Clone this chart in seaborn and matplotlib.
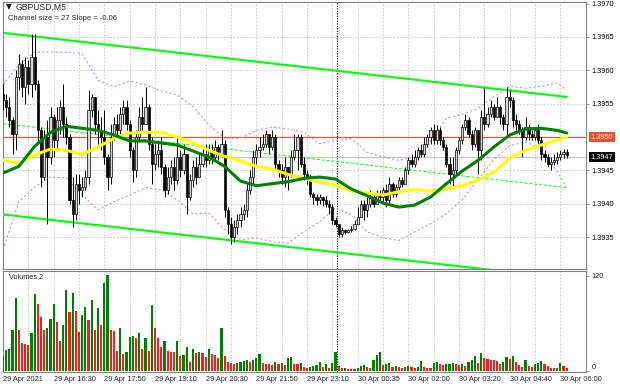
import numpy as np
import pandas as pd
import matplotlib
matplotlib.use("Agg")
import matplotlib.pyplot as plt
import matplotlib.transforms as mtransforms
import seaborn as sns

# ---------------- data ----------------
first_open = 1.39565
closes = [
    1.39555, 1.39545, 1.39525, 1.39505, 1.39590, 1.39610, 1.39575, 1.39605, 1.39580, 1.39620,
    1.39580, 1.39510, 1.39440, 1.39500, 1.39470, 1.39530, 1.39495, 1.39525, 1.39545, 1.39520,
    1.39500, 1.39405, 1.39385, 1.39430, 1.39420, 1.39425, 1.39440, 1.39540, 1.39560, 1.39520,
    1.39510, 1.39500, 1.39470, 1.39440, 1.39500, 1.39520, 1.39510, 1.39535, 1.39545, 1.39520,
    1.39480, 1.39450, 1.39500, 1.39530, 1.39520, 1.39545, 1.39490, 1.39460, 1.39475, 1.39480,
    1.39455, 1.39420, 1.39440, 1.39455, 1.39435, 1.39470, 1.39450, 1.39475, 1.39410, 1.39435,
    1.39455, 1.39440, 1.39460, 1.39475, 1.39465, 1.39480, 1.39470, 1.39485, 1.39475, 1.39490,
    1.39390, 1.39370, 1.39350, 1.39365, 1.39375, 1.39385, 1.39390, 1.39420, 1.39440, 1.39470,
    1.39480, 1.39485, 1.39490, 1.39505, 1.39485, 1.39500, 1.39460, 1.39450, 1.39440, 1.39455,
    1.39445, 1.39470, 1.39480, 1.39500, 1.39460, 1.39445, 1.39440, 1.39415, 1.39410, 1.39405,
    1.39410, 1.39405, 1.39400, 1.39395, 1.39375, 1.39370, 1.39355, 1.39360, 1.39358, 1.39360,
    1.39362, 1.39370, 1.39380, 1.39400, 1.39390, 1.39400, 1.39410, 1.39400, 1.39415, 1.39410,
    1.39420, 1.39405, 1.39430, 1.39415, 1.39425, 1.39435, 1.39430, 1.39450, 1.39465, 1.39460,
    1.39470, 1.39480, 1.39475, 1.39490, 1.39500, 1.39510, 1.39495, 1.39510, 1.39495, 1.39485,
    1.39460, 1.39445, 1.39450, 1.39480, 1.39495, 1.39515, 1.39525, 1.39505, 1.39490, 1.39510,
    1.39480, 1.39530, 1.39520, 1.39535, 1.39545, 1.39530, 1.39545, 1.39530, 1.39520, 1.39560,
    1.39555, 1.39525, 1.39520, 1.39510, 1.39500, 1.39515, 1.39505, 1.39500, 1.39510, 1.39495,
    1.39475, 1.39470, 1.39460, 1.39462, 1.39465, 1.39470, 1.39475, 1.39478, 1.39473,
]
highs = [
    1.39580, 1.39565, 1.39560, 1.39530, 1.39600, 1.39625, 1.39615, 1.39620, 1.39615, 1.39655,
    1.39655, 1.39585, 1.39515, 1.39510, 1.39525, 1.39545, 1.39535, 1.39545, 1.39555, 1.39580,
    1.39530, 1.39505, 1.39440, 1.39445, 1.39445, 1.39440, 1.39450, 1.39570, 1.39565, 1.39560,
    1.39540, 1.39530, 1.39540, 1.39475, 1.39520, 1.39530, 1.39535, 1.39545, 1.39555, 1.39555,
    1.39525, 1.39485, 1.39510, 1.39545, 1.39560, 1.39575, 1.39550, 1.39500, 1.39490, 1.39495,
    1.39500, 1.39460, 1.39455, 1.39465, 1.39470, 1.39500, 1.39480, 1.39490, 1.39475, 1.39445,
    1.39465, 1.39470, 1.39475, 1.39485, 1.39490, 1.39490, 1.39490, 1.39495, 1.39490, 1.39510,
    1.39495, 1.39395, 1.39380, 1.39375, 1.39385, 1.39395, 1.39400, 1.39430, 1.39450, 1.39480,
    1.39490, 1.39500, 1.39505, 1.39510, 1.39505, 1.39510, 1.39505, 1.39465, 1.39460, 1.39470,
    1.39455, 1.39480, 1.39505, 1.39505, 1.39505, 1.39470, 1.39450, 1.39445, 1.39418, 1.39415,
    1.39415, 1.39412, 1.39412, 1.39405, 1.39400, 1.39380, 1.39370, 1.39365, 1.39362, 1.39362,
    1.39366, 1.39375, 1.39395, 1.39405, 1.39405, 1.39410, 1.39420, 1.39415, 1.39420, 1.39420,
    1.39425, 1.39430, 1.39440, 1.39432, 1.39430, 1.39440, 1.39440, 1.39455, 1.39470, 1.39475,
    1.39480, 1.39485, 1.39490, 1.39500, 1.39505, 1.39515, 1.39520, 1.39518, 1.39515, 1.39500,
    1.39490, 1.39470, 1.39470, 1.39485, 1.39500, 1.39520, 1.39535, 1.39530, 1.39510, 1.39515,
    1.39505, 1.39540, 1.39573, 1.39545, 1.39555, 1.39550, 1.39560, 1.39548, 1.39535, 1.39575,
    1.39570, 1.39560, 1.39535, 1.39525, 1.39515, 1.39530, 1.39520, 1.39510, 1.39515, 1.39520,
    1.39500, 1.39480, 1.39475, 1.39470, 1.39475, 1.39478, 1.39480, 1.39482, 1.39482,
]
lows = [
    1.39540, 1.39530, 1.39515, 1.39475, 1.39480, 1.39570, 1.39560, 1.39550, 1.39565, 1.39560,
    1.39570, 1.39490, 1.39425, 1.39435, 1.39370, 1.39460, 1.39470, 1.39480, 1.39505, 1.39500,
    1.39490, 1.39400, 1.39365, 1.39375, 1.39400, 1.39410, 1.39420, 1.39430, 1.39530, 1.39505,
    1.39490, 1.39480, 1.39460, 1.39420, 1.39430, 1.39495, 1.39500, 1.39505, 1.39520, 1.39510,
    1.39470, 1.39432, 1.39440, 1.39495, 1.39510, 1.39520, 1.39480, 1.39430, 1.39450, 1.39455,
    1.39445, 1.39410, 1.39415, 1.39430, 1.39420, 1.39430, 1.39440, 1.39445, 1.39385, 1.39405,
    1.39425, 1.39430, 1.39440, 1.39455, 1.39455, 1.39460, 1.39460, 1.39465, 1.39465, 1.39470,
    1.39380, 1.39355, 1.39340, 1.39343, 1.39355, 1.39365, 1.39375, 1.39380, 1.39415, 1.39430,
    1.39460, 1.39470, 1.39480, 1.39485, 1.39475, 1.39480, 1.39450, 1.39440, 1.39430, 1.39425,
    1.39420, 1.39440, 1.39465, 1.39450, 1.39455, 1.39435, 1.39430, 1.39410, 1.39400, 1.39398,
    1.39400, 1.39396, 1.39395, 1.39385, 1.39370, 1.39365, 1.39350, 1.39350, 1.39354, 1.39356,
    1.39358, 1.39360, 1.39375, 1.39380, 1.39375, 1.39380, 1.39395, 1.39395, 1.39400, 1.39405,
    1.39400, 1.39395, 1.39400, 1.39410, 1.39410, 1.39420, 1.39425, 1.39430, 1.39445, 1.39455,
    1.39455, 1.39465, 1.39470, 1.39470, 1.39485, 1.39490, 1.39490, 1.39490, 1.39488, 1.39480,
    1.39455, 1.39430, 1.39424, 1.39445, 1.39475, 1.39490, 1.39510, 1.39500, 1.39480, 1.39485,
    1.39445, 1.39465, 1.39510, 1.39515, 1.39530, 1.39525, 1.39530, 1.39520, 1.39510, 1.39500,
    1.39545, 1.39515, 1.39510, 1.39505, 1.39470, 1.39495, 1.39495, 1.39495, 1.39495, 1.39490,
    1.39465, 1.39462, 1.39455, 1.39450, 1.39458, 1.39460, 1.39465, 1.39468, 1.39468,
]
volumes = [
    18, 26, 27, 52, 92, 51, 35, 34, 33, 48, 97, 84, 68, 51, 54, 66, 84, 61, 38, 58,
    102, 74, 98, 76, 49, 71, 81, 64, 89, 51, 79, 58, 111, 121, 51, 50, 25, 54, 21, 24,
    43, 44, 42, 48, 27, 41, 25, 83, 54, 41, 30, 37, 25, 24, 24, 37, 18, 20, 30, 11,
    28, 22, 24, 22, 17, 27, 21, 20, 16, 54, 18, 11, 10, 8, 10, 11, 12, 13, 11, 14,
    16, 21, 10, 9, 8, 7, 11, 9, 10, 7, 16, 17, 9, 8, 10, 5, 4, 5, 6, 7,
    11, 5, 9, 4, 10, 24, 6, 3, 4, 2, 2, 2, 3, 6, 7, 5, 4, 13, 20, 24,
    7, 9, 10, 5, 6, 5, 4, 5, 6, 5, 3, 5, 12, 5, 4, 3, 10, 11, 9, 7,
    8, 9, 10, 8, 7, 8, 6, 11, 14, 18, 10, 23, 16, 15, 14, 13, 12, 9, 11, 17,
    15, 18, 11, 7, 5, 14, 6, 5, 8, 10, 12, 9, 6, 4, 3, 4, 10, 6, 3,
]

# moving averages and bands, read every 5 bars
ind_bars = [0, 5, 10, 15, 20, 25, 30, 35, 40, 45, 50, 55, 60, 65, 70, 75, 80, 85, 90,
            95, 100, 105, 110, 115, 120, 125, 130, 135, 140, 145, 150, 155, 160, 165,
            170, 175, 178]
ma_fast = [1.39446, 1.39456, 1.39486, 1.39507, 1.39516, 1.39513, 1.39510, 1.39503, 1.39494,
           1.39494, 1.39491, 1.39488, 1.39479, 1.39470, 1.39456, 1.39434, 1.39427, 1.39430,
           1.39433, 1.39438, 1.39440, 1.39437, 1.39422, 1.39412, 1.39401, 1.39395, 1.39398,
           1.39410, 1.39430, 1.39449, 1.39465, 1.39485, 1.39503, 1.39512, 1.39513, 1.39510,
           1.39506]
ma_slow = [1.39465, 1.39461, 1.39473, 1.39482, 1.39480, 1.39474, 1.39485, 1.39498, 1.39506,
           1.39507, 1.39507, 1.39500, 1.39491, 1.39480, 1.39471, 1.39464, 1.39456, 1.39452,
           1.39444, 1.39438, 1.39432, 1.39428, 1.39419, 1.39416, 1.39413, 1.39418, 1.39421,
           1.39419, 1.39422, 1.39427, 1.39436, 1.39447, 1.39468, 1.39480, 1.39488, 1.39495,
           1.39500]
band_upper = [1.39578, 1.39608, 1.39627, 1.39627, 1.39627, 1.39625, 1.39585, 1.39575, 1.39584,
              1.39578, 1.39569, 1.39563, 1.39546, 1.39518, 1.39498, 1.39498, 1.39510, 1.39515,
              1.39512, 1.39507, 1.39490, 1.39495, 1.39498, 1.39477, 1.39470, 1.39465, 1.39470,
              1.39495, 1.39528, 1.39534, 1.39543, 1.39560, 1.39576, 1.39573, 1.39576, 1.39581,
              1.39570]
band_lower = [1.39331, 1.39403, 1.39425, 1.39440, 1.39439, 1.39413, 1.39391, 1.39403, 1.39413,
              1.39424, 1.39421, 1.39406, 1.39385, 1.39386, 1.39361, 1.39346, 1.39349, 1.39343,
              1.39341, 1.39358, 1.39373, 1.39394, 1.39383, 1.39358, 1.39349, 1.39345, 1.39358,
              1.39370, 1.39385, 1.39406, 1.39436, 1.39466, 1.39487, 1.39493, 1.39481, 1.39448,
              1.39424]

channel_bars = [0, 178]
channel_upper = [1.39656, 1.39560]
channel_size = 0.00272

price_ticks = [1.3935, 1.3940, 1.3945, 1.3955, 1.3960, 1.3965, 1.3970]
grid_prices = [1.3935, 1.3940, 1.3945, 1.3950, 1.3955, 1.3960, 1.3965]
time_label_bars = [0, 16, 32, 48, 64, 80, 96, 112, 128, 144, 160, 176]
time_labels = ["29 Apr 2021", "29 Apr 16:30", "29 Apr 17:50", "29 Apr 19:10",
               "29 Apr 20:30", "29 Apr 21:50", "29 Apr 23:10", "30 Apr 00:35",
               "30 Apr 02:00", "30 Apr 03:20", "30 Apr 04:40", "30 Apr 06:00"]
level_price = 1.3950
bid_price = 1.3947
day_start_bar = 106
symbol = "GBPUSD,M5"
channel_text = "Channel size = 27 Slope = -0.06"
volume_title = "Volumes 2"

# ---------------- frames ----------------
n = len(closes)
bars = np.arange(n)
opens = [first_open] + closes[:-1]
df = pd.DataFrame({"bar": bars, "open": opens, "high": highs, "low": lows,
                   "close": closes, "volume": volumes})
df["up"] = df["close"] >= df["open"]
df["vol_up"] = df["volume"] > df["volume"].shift(1).fillna(0)
ind = pd.DataFrame({"bar": ind_bars, "fast": ma_fast, "slow": ma_slow,
                    "upper": band_upper, "lower": band_lower})
ch = pd.DataFrame({"bar": channel_bars, "upper": channel_upper})
ch["lower"] = ch["upper"] - channel_size
ch["mid"] = ch["upper"] - channel_size / 2

# ---------------- style ----------------
sns.set_style("white")
plt.rcParams["font.family"] = ["Liberation Sans", "DejaVu Sans"]
FS = 5.3

W, H = 620, 388
fig = plt.figure(figsize=(W / 100, H / 100), dpi=100)
ax = fig.add_axes([3 / W, 1 - 268.5 / H, 583 / W, 267 / H])
axv = fig.add_axes([3 / W, 1 - 372 / H, 583 / W, 101.5 / H])

XL = (0, 184.1)
for a in (ax, axv):
    a.set_xlim(*XL)
    for s in a.spines.values():
        s.set_color("#808080")
        s.set_linewidth(0.8)
    for b in range(0, 184, 8):
        a.axvline(b, color="#c8c8c8", lw=0.6, ls=(0, (2, 2)), zorder=0)
    a.axvline(day_start_bar - 0.5, color="#202020", lw=0.9, ls=(0, (1, 1)), zorder=0.5)

ax.set_ylim(1.39303, 1.39703)
for gp in grid_prices:
    ax.axhline(gp, color="#c8c8c8", lw=0.6, ls=(0, (2, 2)), zorder=0)

# level lines
ax.axhline(level_price, color="#e8502a", lw=0.8, zorder=1)
ax.axhline(bid_price, color="#c8c8c8", lw=1.0, zorder=1)

# channel
sns.lineplot(data=ch, x="bar", y="upper", ax=ax, color="#00ff00", linewidth=1.5, zorder=2)
sns.lineplot(data=ch, x="bar", y="lower", ax=ax, color="#00ff00", linewidth=1.5, zorder=2)
sns.lineplot(data=ch, x="bar", y="mid", ax=ax, color="#00ff00", linewidth=0.7,
             linestyle=(0, (3, 2)), zorder=2)

# bands
for col in ("upper", "lower"):
    sns.lineplot(data=ind, x="bar", y=col, ax=ax, color="#c890e0", linewidth=0.8,
                 linestyle=(0, (2, 2)), zorder=2)

# candles
ax.vlines(df["bar"], df["low"], df["high"], color="black", lw=0.7, zorder=3)
body_lo = np.minimum(df["open"], df["close"])
body_h = np.maximum(np.abs(df["close"] - df["open"]), 0.000012)
face = np.where(df["up"], "#d8d8d8", "black")
ax.bar(df["bar"], body_h, bottom=body_lo, width=0.66, color=face,
       edgecolor="black", linewidth=0.5, zorder=4)

# moving averages
sns.lineplot(data=ind, x="bar", y="slow", ax=ax, color="#ffff00", linewidth=2.2, zorder=5)
sns.lineplot(data=ind, x="bar", y="fast", ax=ax, color="#008000", linewidth=2.2, zorder=6)

ax.set_xlim(*XL)
ax.set_ylim(1.39303, 1.39703)
ax.set_xlabel("")
ax.set_ylabel("")
ax.set_xticks([])
ax.yaxis.tick_right()
ax.set_yticks(price_ticks)
ax.set_yticklabels([f"{p:.4f}" for p in price_ticks])
ax.tick_params(axis="y", right=True, length=2, width=0.6, color="#808080",
               pad=2, labelsize=FS, labelcolor="black")

trans = mtransforms.blended_transform_factory(ax.transAxes, ax.transData)
ax.text(1.0075, level_price, f"{level_price:.4f}", transform=trans, fontsize=FS,
        color="white", va="center", ha="left", clip_on=False,
        bbox=dict(boxstyle="square,pad=0.25", fc="#e8502a", ec="none"))
ax.text(1.0075, bid_price, f"{bid_price:.4f}", transform=trans, fontsize=FS,
        color="white", va="center", ha="left", clip_on=False,
        bbox=dict(boxstyle="square,pad=0.25", fc="black", ec="none"))

# volumes
vcol = np.where(df["vol_up"], "#008000", "#ff1a1a")
axv.bar(df["bar"], df["volume"], width=0.72, color=vcol, linewidth=0, zorder=3)
axv.set_ylim(-1.65, 126.8)
axv.yaxis.tick_right()
axv.set_yticks([0, 120])
axv.set_yticklabels(["0", "120"])
axv.tick_params(axis="y", right=True, length=2, width=0.6, color="#808080",
                pad=2, labelsize=FS)
for lab in axv.get_yticklabels():
    if lab.get_text() == "0":
        lab.set_va("bottom")
axv.set_xticks(time_label_bars)
axv.set_xticklabels(time_labels)
axv.tick_params(axis="x", length=0, pad=3, labelsize=FS)
for lab in axv.get_xticklabels():
    lab.set_ha("left")
axv.set_xlabel("")
axv.set_ylabel("")
axv.text(6 / 583, 1 - 7 / 101.5, volume_title, transform=axv.transAxes,
         fontsize=FS, va="center", ha="left")

# header texts
fig.text(6 / W, 1 - 7 / H, "\u25BC", fontsize=5.5, va="center", ha="left",
         family=["DejaVu Sans"])
fig.text(16 / W, 1 - 7 / H, symbol, fontsize=6.2, va="center", ha="left")
fig.text(8 / W, 1 - 19 / H, channel_text, fontsize=5.5, va="center", ha="left")

fig.savefig("out.png", dpi=100)
